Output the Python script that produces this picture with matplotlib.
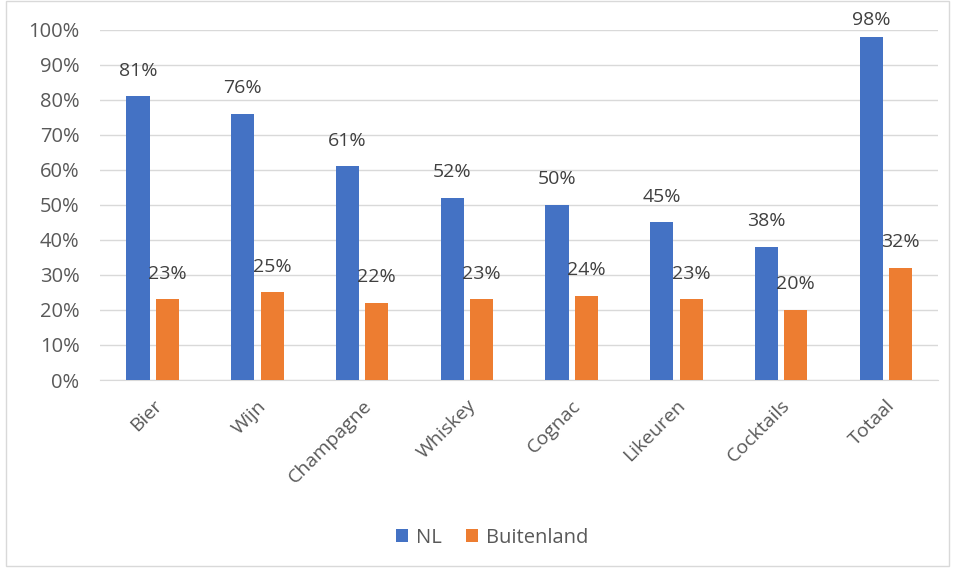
import matplotlib.pyplot as plt
import numpy as np

plt.rcParams['font.family'] = ['Open Sans', 'DejaVu Sans']

categories = ['Bier', 'Wijn', 'Champagne', 'Whiskey', 'Cognac', 'Likeuren', 'Cocktails', 'Totaal']
nl = [81, 76, 61, 52, 50, 45, 38, 98]
buitenland = [23, 25, 22, 23, 24, 23, 20, 32]

blue = '#4472C4'
orange = '#ED7D31'
textc = '#595959'

fig = plt.figure(figsize=(9.55, 5.71), dpi=100)
ax = fig.add_axes([0.105, 0.3345, 0.8775, 0.613])

x = np.arange(len(categories))
w = 0.22
gap = 0.03
b1 = ax.bar(x - w / 2 - gap, nl, w, color=blue, label='NL', zorder=3)
b2 = ax.bar(x + w / 2 + gap, buitenland, w, color=orange, label='Buitenland', zorder=3)

for bars, vals in [(b1, nl), (b2, buitenland)]:
    for r, v in zip(bars, vals):
        off = 6 if v > 95 else 12  # label pushed down when it would run off the top
        ax.annotate(f'{v}%', (r.get_x() + r.get_width() / 2, v), xytext=(0, off),
                    textcoords='offset points', ha='center', va='bottom',
                    fontsize=14, color='#404040', zorder=4, annotation_clip=False)

ax.set_xlim(-0.5, len(categories) - 0.5)
ax.set_ylim(0, 100)
ax.set_yticks(range(0, 101, 10))
ax.set_yticklabels([f'{t}%' for t in range(0, 101, 10)], fontsize=14.5, color=textc)
ax.set_xticks(x)
ax.set_xticklabels(categories, rotation=45, ha='right', rotation_mode='anchor',
                   fontsize=14, color=textc)
ax.tick_params(axis='y', length=0, pad=15)
ax.tick_params(axis='x', length=0, pad=12)
ax.grid(axis='y', color='#D9D9D9', linewidth=1, zorder=0)
for s in ['top', 'right', 'left']:
    ax.spines[s].set_visible(False)
ax.spines['bottom'].set_color('#D9D9D9')

fig.legend(handles=[b1, b2], loc='center', bbox_to_anchor=(0.515, 0.058), ncol=2,
           frameon=False, fontsize=14.5, handlelength=0.6, handleheight=0.6,
           handletextpad=0.4, columnspacing=1.2, labelcolor=textc)

fig.patches.append(plt.Rectangle((0.006, 0.008), 0.988, 0.99, transform=fig.transFigure,
                                 fill=False, edgecolor='#D9D9D9', linewidth=1))

fig.savefig('out.png', dpi=100)
